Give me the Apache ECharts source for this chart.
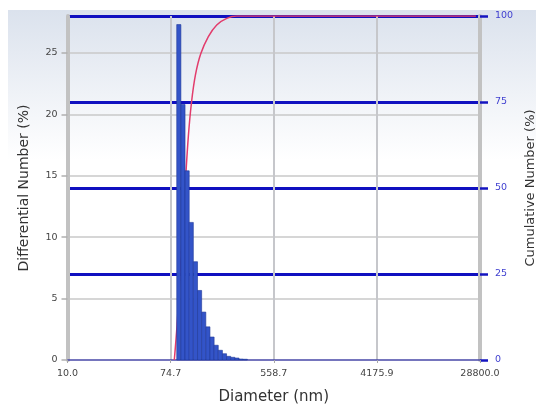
<!DOCTYPE html>
<html>
<head>
<meta charset="utf-8">
<script src="https://cdn.jsdelivr.net/npm/echarts@6/dist/echarts.min.js"></script>
<style>
  html, body { margin: 0; padding: 0; background: #ffffff; }
  #chart { width: 536px; height: 405px; }
</style>
</head>
<body>
<div id="chart"></div>
<script>
// tick values / labels of the diameter axis (nm)
const tickValues = [10, 74.7, 558.7, 4175.9, 28800];
const tickLabels = ['10.0', '74.7', '558.7', '4175.9', '28800.0'];

// histogram bins (nm) and differential number (%)
const binEdges = [84.2, 91.3, 99.0, 107.4, 116.4, 126.3, 136.9, 148.5, 161.0,
    174.6, 189.3, 205.3, 222.6, 241.4, 261.8, 283.9, 307.8, 333.8];
const diffNumber = [27.3, 20.8, 15.4, 11.2, 8.0, 5.66, 3.9, 2.7, 1.87,
    1.2, 0.79, 0.51, 0.3, 0.22, 0.16, 0.08, 0.06];

// cumulative curve (nm, %)
const cumDiameter = [80.3, 84.7, 89.8, 99.0, 105.6, 112.4, 121.5, 134.5, 156.0, 183.7, 223.3, 271.4, 28800];
const cumNumber = [0, 10, 25, 50, 65, 75, 83, 89, 94, 97.4, 99.3, 100, 100];

// the instrument spaces its ticks by a constant ratio
const logStep = Math.log(tickValues[3] / tickValues[0]) / 3;
function toAxis(d) {
    return Math.log(d / tickValues[0]) / logStep;
}

const font = 'DejaVu Sans';
const chart = echarts.init(document.getElementById('chart'));

const barData = diffNumber.map((v, i) => [toAxis(binEdges[i]), toAxis(binEdges[i + 1]), v]);
const cumData = cumDiameter.map((d, i) => [toAxis(d), cumNumber[i]]);

chart.setOption({
    animation: false,
    graphic: [{
        type: 'rect',
        z: -10,
        shape: { x: 8, y: 10, width: 528, height: 150 },
        style: {
            fill: new echarts.graphic.LinearGradient(0, 0, 0, 1, [
                { offset: 0, color: '#dbe2ed' },
                { offset: 1, color: '#ffffff' }
            ])
        }
    }],
    grid: { left: 67.5, right: 56, top: 16, bottom: 45, outerBoundsMode: 'none' },
    xAxis: {
        type: 'value',
        min: 0,
        max: 4,
        interval: 1,
        name: 'Diameter (nm)',
        nameLocation: 'middle',
        nameGap: 30,
        nameTextStyle: { fontFamily: font, fontSize: 15, color: '#333' },
        axisLine: { lineStyle: { color: '#4848a8', width: 1.5 } },
        axisTick: { show: true, length: 3, lineStyle: { color: '#a8a8a8' } },
        axisLabel: {
            margin: 9,
            fontFamily: font,
            fontSize: 9.5,
            color: '#444',
            formatter: (v) => tickLabels[Math.round(v)]
        },
        splitLine: {
            show: true,
            showMinLine: false,
            showMaxLine: false,
            lineStyle: { color: '#c6c7cb', width: 2 }
        }
    },
    yAxis: [{
        type: 'value',
        min: 0,
        max: 28,
        interval: 5,
        name: 'Differential Number (%)',
        nameLocation: 'middle',
        nameGap: 36,
        nameTextStyle: { fontFamily: font, fontSize: 14, color: '#333' },
        axisLine: { show: true, lineStyle: { color: '#c2c2c2', width: 4 } },
        axisTick: { show: true, length: 6, lineStyle: { color: '#b0b0b0', width: 1.5 } },
        axisLabel: { margin: 10, fontFamily: font, fontSize: 9.5, color: '#444', showMaxLabel: false },
        splitLine: {
            show: true,
            showMinLine: false,
            showMaxLine: false,
            lineStyle: { color: '#c9c9c9', width: 1.5 }
        }
    }, {
        type: 'value',
        position: 'right',
        min: 0,
        max: 100,
        interval: 25,
        name: 'Cumulative Number (%)',
        nameLocation: 'middle',
        nameRotate: 90,
        nameGap: 42,
        nameTextStyle: { fontFamily: font, fontSize: 13, color: '#333' },
        axisLine: { show: true, lineStyle: { color: '#c2c2c2', width: 4 } },
        axisTick: { show: true, length: 8, lineStyle: { color: '#1414c0', width: 2.5 } },
        axisLabel: { margin: 15, fontFamily: font, fontSize: 9.5, color: '#4040d0' },
        splitLine: {
            show: true,
            showMinLine: false,
            lineStyle: { color: '#1010c0', width: 3 }
        }
    }],
    series: [{
        type: 'line',
        yAxisIndex: 1,
        data: cumData,
        showSymbol: false,
        smooth: 0.35,
        z: 2,
        lineStyle: { color: '#e23c6c', width: 1.5 }
    }, {
        type: 'custom',
        z: 3,
        data: barData,
        encode: { x: [0, 1], y: 2 },
        renderItem: (params, api) => {
            const p0 = api.coord([api.value(0), 0]);
            const p1 = api.coord([api.value(1), api.value(2)]);
            return {
                type: 'rect',
                shape: { x: p0[0], y: p1[1], width: p1[0] - p0[0], height: p0[1] - p1[1] },
                style: { fill: '#3354c8', stroke: '#1f3898', lineWidth: 0.6 }
            };
        }
    }]
});
</script>
</body>
</html>
